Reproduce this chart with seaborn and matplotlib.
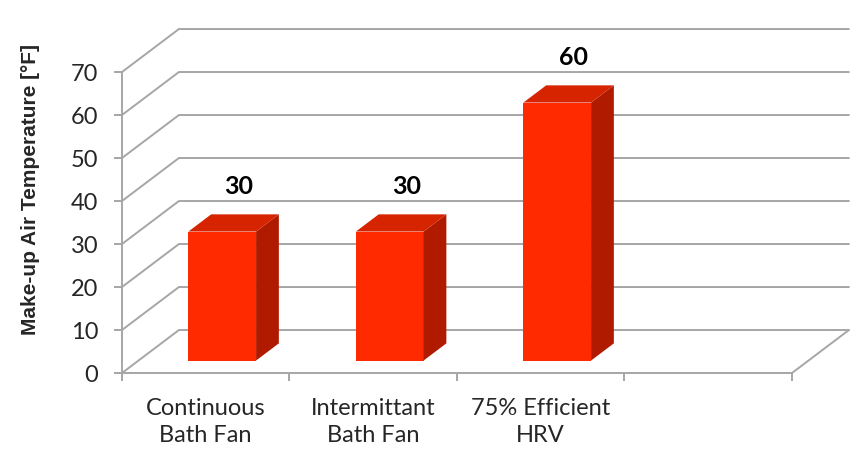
import matplotlib
matplotlib.use("Agg")
import matplotlib.pyplot as plt
import seaborn as sns
import pandas as pd
from matplotlib.patches import Polygon

categories = ["Continuous\nBath Fan", "Intermittant\nBath Fan", "75% Efficient\nHRV"]
temps = [30, 30, 60]
value_labels = ["30", "30", "60"]
y_ticks = [0, 10, 20, 30, 40, 50, 60, 70]

# fake 3D box: depth vector in data units, bars sit between FRONT and BACK of it
DX, DY = 0.34, 10.0
FRONT, BACK = 0.29, 0.69
GRID = "#a6a6a6"
FACE, TOP, SIDE = "#ff2a00", "#d62300", "#b01b00"

sns.set_theme(style="white")
plt.rcParams["font.family"] = ["Lato", "DejaVu Sans"]

fig = plt.figure(figsize=(8.56, 4.51), dpi=100)
ax = fig.add_axes([0.1425, 0.1729, 0.7827, 0.6674])

df = pd.DataFrame({"cat": categories, "temp": temps})
sns.barplot(data=df, x="cat", y="temp", color=FACE, saturation=1, width=0.404,
            linewidth=0, ax=ax, zorder=3)

ax.set_xlim(-0.5, 3.5)
ax.set_ylim(0, 70)

# back wall / floor gridlines
for v in y_ticks:
    ax.plot([-0.5, -0.5 + DX, 3.5 + DX], [v, v + DY, v + DY], color=GRID, lw=1.4,
            clip_on=False, zorder=1, solid_joinstyle="miter")
ax.plot([3.5, 3.5 + DX], [0, DY], color=GRID, lw=1.4, clip_on=False, zorder=1)

# push the bars back into the box and add side / top faces
d = BACK - FRONT
for p, val, lab in zip(ax.patches, temps, value_labels):
    x0 = p.get_x() + FRONT * DX
    w = p.get_width()
    y0 = FRONT * DY
    p.set_x(x0)
    p.set_y(y0)
    x1, y1 = x0 + w, y0 + val
    side = Polygon([(x1, y0), (x1 + d * DX, y0 + d * DY), (x1 + d * DX, y1 + d * DY), (x1, y1)],
                   closed=True, facecolor=SIDE, edgecolor="none", zorder=3, clip_on=False)
    top = Polygon([(x0, y1), (x0 + d * DX, y1 + d * DY), (x1 + d * DX, y1 + d * DY), (x1, y1)],
                  closed=True, facecolor=TOP, edgecolor="none", zorder=3, clip_on=False)
    ax.add_patch(side)
    ax.add_patch(top)
    ax.text(x0 + w / 2 + d * DX / 2 + 0.03, val + 13.3, lab, ha="center", va="center",
            fontsize=18, fontweight="bold", color="black", clip_on=False)

for s in ["top", "right"]:
    ax.spines[s].set_visible(False)
for s in ["left", "bottom"]:
    ax.spines[s].set_color(GRID)
    ax.spines[s].set_linewidth(1.4)

ax.set_yticks(y_ticks)
ax.set_yticklabels([str(v) for v in y_ticks], fontsize=17)
ax.set_xticks([-0.5, 0.5, 1.5, 2.5, 3.5])
ax.set_xticklabels([])
ax.set_xticks([0, 1, 2], minor=True)
ax.set_xticklabels(categories, minor=True, fontsize=17, linespacing=1.35)
ax.tick_params(axis="both", which="major", direction="out", length=6, width=1.4,
               color=GRID, left=True, bottom=True)
ax.tick_params(axis="y", pad=11)
ax.tick_params(axis="x", which="minor", length=0, pad=18)

ax.set_xlabel("")
ax.set_ylabel("Make-up Air Temperature [°F]", fontfamily=["Liberation Sans", "DejaVu Sans"],
              fontweight="bold", fontsize=15)
ax.yaxis.set_label_coords(-0.122, 0.61)

fig.savefig("out.png", dpi=100)
